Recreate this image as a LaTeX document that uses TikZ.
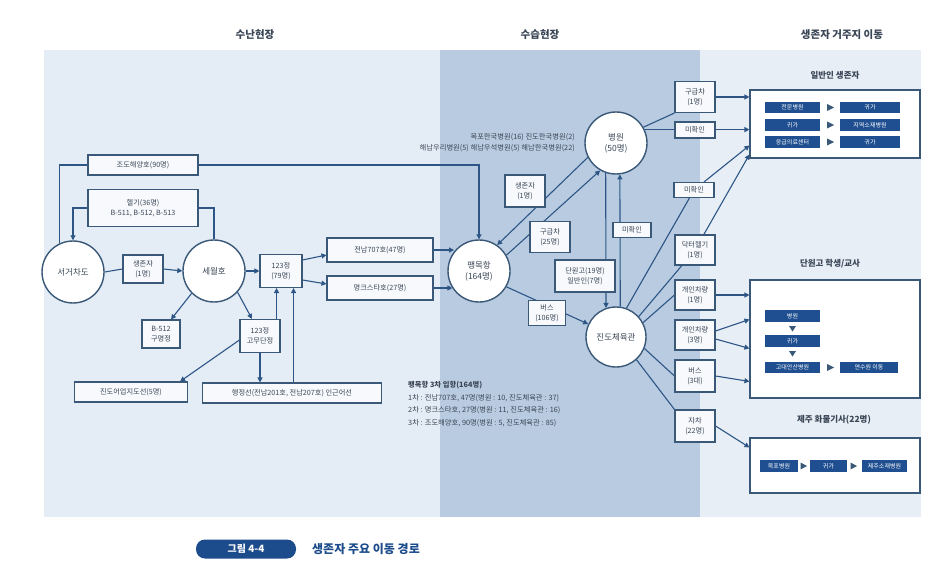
\documentclass[tikz,border=0pt]{standalone}
\usepackage{fontspec}
\setmainfont{Noto Sans CJK KR}
\usetikzlibrary{arrows.meta,calc}
\definecolor{panelL}{HTML}{E4ECF5}
\definecolor{panelM}{HTML}{B9CBE0}
\definecolor{panelR}{HTML}{E8EEF6}
\definecolor{lineC}{HTML}{2D5686}
\definecolor{boxD}{HTML}{3A5878}
\definecolor{boxF}{HTML}{F7F9FC}
\definecolor{labC}{HTML}{1F4F90}
\definecolor{txtC}{HTML}{3A4656}
\definecolor{capC}{HTML}{1D4C8C}
\pgfdeclarelayer{bg}
\pgfdeclarelayer{lines}
\pgfsetlayers{bg,lines,main}
\tikzset{
 circ/.style={circle, draw=boxD, line width=1.4pt, fill=white, minimum size=62pt, inner sep=0pt, align=center, font=\fontsize{8.5}{11}\selectfont, text=txtC},
 bx/.style={draw=boxD, line width=1.1pt, fill=boxF, align=center, inner sep=0pt, font=\fontsize{7.2}{9.5}\selectfont, text=txtC},
 sz/.style 2 args={minimum width=#1pt, minimum height=#2pt},
 grp/.style={draw=boxD, line width=1.1pt, fill=white, inner sep=0pt},
 ln/.style={draw=lineC, line width=1.1pt},
 arr/.style={ln, -{Triangle[length=5pt,width=5pt]}},
 lab/.style={fill=labC, text=white, inner sep=0pt, minimum height=11.5pt, font=\fontsize{6}{6}\selectfont},
 hdr/.style={font=\fontsize{10.5}{12}\selectfont\bfseries, text=txtC},
 ttl/.style={font=\fontsize{8.5}{10}\selectfont\bfseries, text=txtC},
 note/.style={font=\fontsize{7.3}{9}\selectfont, text=txtC, anchor=west, inner sep=0pt},
 tri/.style={fill=boxD},
}
\begin{document}
\begin{tikzpicture}[x=1pt,y=-1pt]
\useasboundingbox (0,0) rectangle (933,577);
\begin{pgfonlayer}{bg}
\fill[white] (0,0) rectangle (933,577);
\fill[panelL] (44,50) rectangle (440,517);
\fill[panelM] (440,50) rectangle (700,517);
\fill[panelR] (700,50) rectangle (921,517);
\end{pgfonlayer}

% headers
\node[hdr] (h1) at (255,35) {수난현장};
\node[hdr] (h2) at (540,35) {수습현장};
\node[hdr] (h3) at (842,35) {생존자 거주지 이동};

% circles
\node[circ] (seo) at (73,272) {서거차도};
\node[circ] (seol) at (214,271) {세월호};
\node[circ] (paeng) at (479,271) {팽목항\\(164명)};
\node[circ] (hosp) at (616,143) {병원\\(50명)};
\node[circ, minimum size=60pt] (gym) at (616,337) {진도체육관};

% left boxes
\node[bx, sz={110}{20}] (jodo) at (143,165) {조도해양호(90명)};
\node[bx, sz={110}{37}] (heli) at (143,208) {헬기(36명)\\B-511, B-512, B-513};
\node[bx, sz={40}{28}] (surv1) at (143,269) {생존자\\(1명)};
\node[bx, sz={38}{28}] (b512) at (161,334) {B-512\\구명정};
\node[bx, sz={40}{33}] (gomu) at (260,336) {123정\\고무단정};
\node[bx, sz={42}{33}] (p123) at (281,271) {123정\\(79명)};
\node[bx, sz={113}{20}] (jindo) at (131,392) {진도어업지도선(5명)};
\node[bx, sz={179}{20}] (haeng) at (292,393) {행정선(전남201호, 전남207호) 인근어선};
\node[bx, sz={106}{24}] (jn707) at (380,250) {전남707호(47명)};
\node[bx, sz={106}{24}] (myeong) at (380,288) {명크스타호(27명)};

% middle boxes
\node[bx, sz={40}{32}] (surv2) at (525,191) {생존자\\(1명)};
\node[bx, sz={40}{31}] (amb25) at (550,237) {구급차\\(25명)};
\node[bx, sz={60}{32}] (dwg) at (585,276) {단원고(19명)\\일반인(7명)};
\node[bx, sz={38}{15}] (unk0) at (632,230) {미확인};
\node[bx, sz={37}{25}] (bus106) at (547,313) {버스\\(106명)};
\node[note, anchor=east] (hl1) at (575,137) {목포한국병원(16) 진도한국병원(2)};
\node[note, anchor=east] (hl2) at (575,148) {해남우리병원(5) 해남우석병원(5) 해남한국병원(22)};

% right column boxes
\node[bx, sz={40}{31}] (amb1) at (695,97) {구급차\\(1명)};
\node[bx, sz={40}{16}] (unk1) at (695,130) {미확인};
\node[bx, sz={40}{15}] (unk2) at (694,190) {미확인};
\node[bx, sz={40}{30}] (doc) at (695,250) {닥터헬기\\(1명)};
\node[bx, sz={40}{30}] (car1) at (695,295) {개인차량\\(1명)};
\node[bx, sz={40}{30}] (car3) at (695,335) {개인차량\\(3명)};
\node[bx, sz={40}{32}] (bus3) at (695,376) {버스\\(3대)};
\node[bx, sz={40}{32}] (selfcar) at (695,426) {자차\\(22명)};

% destination groups
\node[ttl] (t1) at (835,75) {일반인 생존자};
\node[grp, sz={170}{68}] (ilban) at (835,124) {};
\node[ttl] (t2) at (830,264) {단원고 학생/교사};
\node[grp, sz={170}{118}] (dan) at (835,339) {};
\node[ttl] (t3) at (834,420) {제주 화물기사(22명)};
\node[grp, sz={170}{55}] (jeju) at (835,465.5) {};

% labels inside groups
\node[lab, minimum width=55pt] (i1) at (792.5,107.5) {전문병원};
\node[lab, minimum width=60pt] (i2) at (870,107.5) {귀가};
\node[lab, minimum width=55pt] (i3) at (792.5,125) {귀가};
\node[lab, minimum width=60pt] (i4) at (870,125) {지역소재병원};
\node[lab, minimum width=55pt] (i5) at (792.5,142) {응급의료센터};
\node[lab, minimum width=60pt] (i6) at (870,142) {귀가};
\foreach \yy in {107.5,125,142} \fill[tri] (827,\yy-3.5) -- (834,\yy) -- (827,\yy+3.5) -- cycle;

\node[lab, minimum width=55pt] (d1) at (792.5,316) {병원};
\node[lab, minimum width=55pt] (d2) at (792.5,341) {귀가};
\node[lab, minimum width=55pt] (d3) at (792.5,367.5) {고대안산병원};
\node[lab, minimum width=58pt] (d4) at (869,367.5) {연수원 이동};
\fill[tri] (789,326) -- (796,326) -- (792.5,331.5) -- cycle;
\fill[tri] (789,351) -- (796,351) -- (792.5,356.5) -- cycle;
\fill[tri] (827,364) -- (834,367.5) -- (827,371) -- cycle;

\node[lab, minimum width=38pt] (j1) at (779,466) {목포병원};
\node[lab, minimum width=37pt] (j2) at (828.5,466) {귀가};
\node[lab, minimum width=45pt] (j3) at (884.5,466) {제주소재병원};
\fill[tri] (800.5,462.5) -- (807,466) -- (800.5,469.5) -- cycle;
\fill[tri] (850.5,462.5) -- (857,466) -- (850.5,469.5) -- cycle;

% note block
\node[note, font=\fontsize{7.3}{9}\selectfont\bfseries] (n0) at (408,385) {팽목항 3차 입항(164명)};
\node[note] (n1) at (408,398) {1차 : 전남707호, 47명(병원 : 10, 진도체육관 : 37)};
\node[note] (n2) at (408,410.5) {2차 : 명크스타호, 27명(병원 : 11, 진도체육관 : 16)};
\node[note] (n3) at (408,423) {3차 : 조도해양호, 90명(병원 : 5, 진도체육관 : 85)};

% caption
\node[fill=capC, rounded corners=9pt, sz={100}{19}, text=white, inner sep=0pt, font=\fontsize{10}{11}\selectfont\bfseries] (capl) at (246,549) {그림 4-4};
\node[anchor=west, text=capC, inner sep=0pt, font=\fontsize{12}{13}\selectfont\bfseries] (capt) at (312,549) {생존자 주요 이동 경로};

% connectors
\begin{pgfonlayer}{lines}
\draw[ln] (seo.115) |- (jodo.west);
\draw[arr] (jodo.east) -| (paeng.north);
\draw[ln] (seol.north) |- (heli.east);
\draw[arr] (heli.west) -| (seo.north);
\draw[ln] (seo.east) -- (surv1.west);
\draw[arr] (surv1.east) -- (seol.west);
\draw[arr] (seol.225) -- ([xshift=10pt]b512.north);
\draw[arr] (seol.-42) -- ([xshift=-8pt]gomu.north);
\draw[arr] (seol.east) -- (p123.west);
\draw[arr] ([xshift=-4pt]gomu.north east) -- ([xshift=-4pt]gomu.north east |- p123.south);
\draw[arr] ([yshift=-4pt]gomu.west) -- ([xshift=-8pt]jindo.north east);
\draw[arr] (gomu.south) -- (gomu.south |- haeng.north);
\draw[arr] ([xshift=-9pt]p123.south east |- haeng.north) -- ([xshift=-9pt]p123.south east);
\draw[arr] ([yshift=11pt]p123.east) -- ([yshift=-5pt]jn707.west);
\draw[arr] ([yshift=-9pt]p123.east) -- ([yshift=4pt]myeong.west);
\draw[arr] (jn707.east) -- (jn707.east -| paeng.142);
\draw[arr] (myeong.east) -- (myeong.east -| paeng.213);

\draw[arr] (hosp.207) -- (paeng.55);
\draw[arr] (paeng.30) -- (hosp.240);
\draw[arr] (paeng.-30) -- (gym.155);
\draw[arr] (hosp.251) -- (gym.109);
\draw[arr] (gym.82) -- (hosp.277);

\draw[ln] (hosp.30) -- (amb1.south west);
\draw[arr] (amb1.east) -- (amb1.east -| ilban.west);
\draw[arr] (hosp.25) -- (hosp.25 -| ilban.west);
\draw[ln] (gym.70) -- (unk2);
\draw[arr] (unk2) -- ([yshift=-56pt]ilban.north west);
\draw[ln] (gym.42) -- (doc);
\draw[arr] (doc) -- ([yshift=-65pt]ilban.north west);
\draw[ln] (gym.28) -- (car1.west);
\draw[arr] (car1.east) -- (car1.east -| dan.west);
\draw[arr] ([yshift=4pt]car3.east) -- ([yshift=-40pt]dan.north west);
\draw[arr] ([yshift=-4pt]car3.east) -- ([yshift=-69pt]dan.north west);
\draw[ln] (gym.-22) -- (bus3.west);
\draw[arr] (bus3.east) -- ([yshift=-102pt]dan.north west);
\draw[ln] (gym.-48) -- (selfcar.north west);
\draw[arr] (selfcar.east) -- ([yshift=-10pt]jeju.north west);
\end{pgfonlayer}
\end{tikzpicture}
\end{document}
